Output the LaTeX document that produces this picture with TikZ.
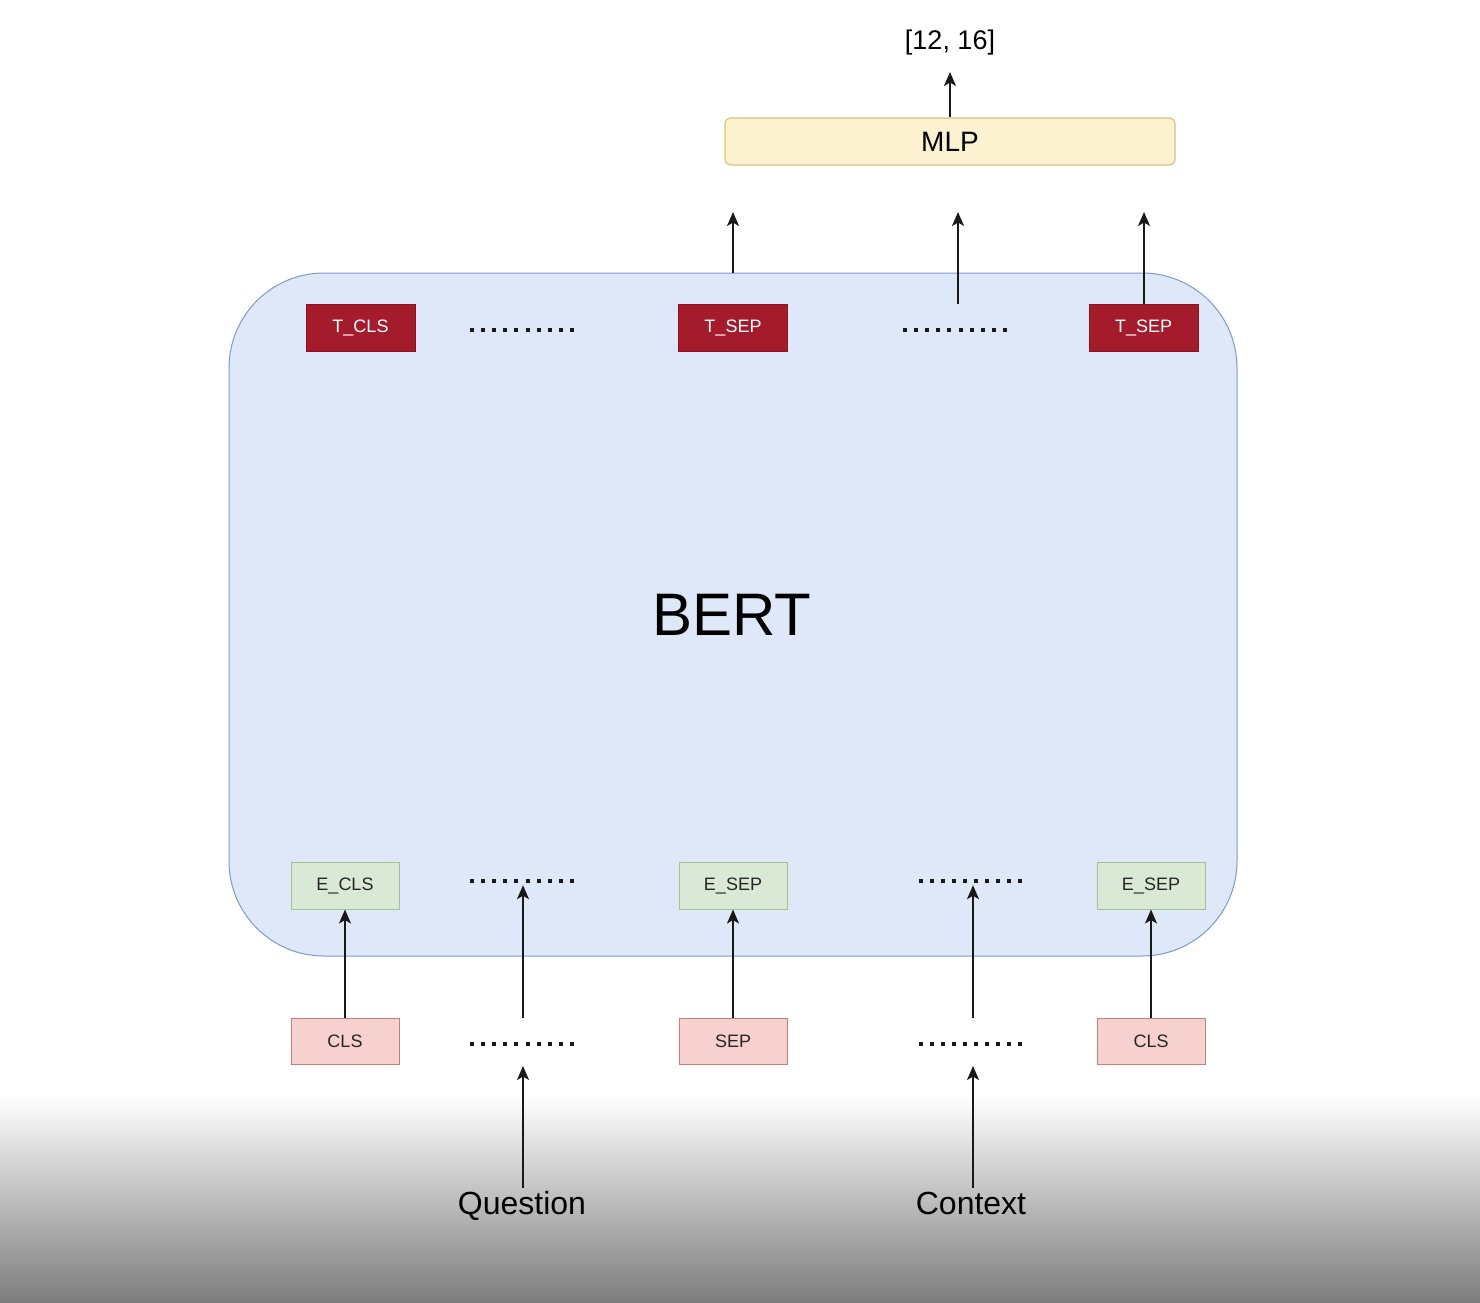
\documentclass[tikz,border=0pt]{standalone}
\usepackage{fontspec}
\setmainfont{Liberation Sans}
\usetikzlibrary{arrows.meta}
\definecolor{tred}{HTML}{A41C2C}
\definecolor{tredb}{HTML}{8E1222}
\definecolor{bertfill}{HTML}{DEE8F9}
\definecolor{bertline}{HTML}{7D9ACB}
\definecolor{efill}{HTML}{DAE9D5}
\definecolor{eline}{HTML}{9CC58A}
\definecolor{pfill}{HTML}{F7D1CF}
\definecolor{pline}{HTML}{C77E7B}
\definecolor{mfill}{HTML}{FCF2CF}
\definecolor{mline}{HTML}{D9C27E}
\definecolor{fadegray}{HTML}{7D7D7D}
\definecolor{fademid}{HTML}{E0E0E0}
\tikzset{
  lbl/.style={font=\fontsize{18}{20}\selectfont},
  tbox/.style={rectangle, fill=tred, draw=tredb, line width=0.8pt, text=white, minimum width=109pt, minimum height=47pt, inner sep=0pt, lbl},
  ebox/.style={rectangle, fill=efill, draw=eline, line width=1pt, text=black!85, minimum width=108pt, minimum height=47pt, inner sep=0pt, lbl},
  pbox/.style={rectangle, fill=pfill, draw=pline, line width=1pt, text=black!85, minimum width=108pt, minimum height=46pt, inner sep=0pt, lbl},
  dotrow/.style={rectangle, minimum width=106pt, minimum height=8pt, inner sep=0pt,
    path picture={\foreach \i in {0,...,9}
      \fill[black!90] ([xshift=\i*11.1pt+0.5pt,yshift=2pt]path picture bounding box.west) rectangle ++(4,4);}},
  arr/.style={line width=1.8pt, draw=black!90, -{Stealth[length=14pt,width=12pt,inset=3.5pt]}},
  inlabel/.style={font=\fontsize{32}{36}\selectfont, inner sep=2pt, anchor=base},
}
\begin{document}
\begin{tikzpicture}[x=1pt,y=-1pt]
\useasboundingbox (0,0) rectangle (1480,1302);
\fill[white] (0,0) rectangle (1480,1302);
\shade[top color=white, middle color=fademid, bottom color=fadegray] (0,1095) rectangle (1480,1302);

% BERT block
\node[rectangle, rounded corners=95pt, fill=bertfill, draw=bertline, line width=1pt,
  minimum width=1008pt, minimum height=683pt, inner sep=0pt] (bert) at (733,614.5) {};
\node[font=\fontsize{60}{70}\selectfont] (berttxt) at (732,615) {BERT};

% top row
\node[tbox] (tcls) at (360.5,327.5) {T\_CLS};
\node[dotrow] (td1) at (522.5,330) {};
\node[tbox] (tsep1) at (733,327.5) {T\_SEP};
\node[dotrow] (td2) at (955.5,330) {};
\node[tbox] (tsep2) at (1143.5,327.5) {T\_SEP};

% embeddings
\node[ebox] (ecls) at (345,885.5) {E\_CLS};
\node[dotrow] (ed1) at (522.5,881) {};
\node[ebox] (esep1) at (733,885.5) {E\_SEP};
\node[dotrow] (ed2) at (971,881) {};
\node[ebox] (esep2) at (1151,885.5) {E\_SEP};

% tokens
\node[pbox] (cls1) at (345,1041) {CLS};
\node[dotrow] (pd1) at (522.5,1044) {};
\node[pbox] (sep) at (733,1041) {SEP};
\node[dotrow] (pd2) at (971,1044) {};
\node[pbox] (cls2) at (1151,1041) {CLS};

% inputs
\node[inlabel] (question) at (522,1214) {Question};
\node[inlabel] (context) at (971,1214) {Context};

% MLP and output
\node[rectangle, rounded corners=6pt, fill=mfill, draw=mline, line width=1.2pt,
  minimum width=450pt, minimum height=47pt, inner sep=0pt, font=\fontsize{28}{32}\selectfont] (mlp) at (950,141.5) {MLP};
\node[font=\fontsize{27}{30}\selectfont, inner sep=0pt] (out) at (950,43) {[12, 16]};

% coordinates
\coordinate (a1s) at (733,273);
\coordinate (a1e) at (733,212);
\coordinate (a2s) at (958,304);
\coordinate (a2e) at (958,212);
\coordinate (a3e) at (1144,212);
\coordinate (q1s) at (523,1018);
\coordinate (c1s) at (973,1018);
\coordinate (q0e) at (523,1066);
\coordinate (c0e) at (973,1066);
\coordinate (q0s) at (523,1188);
\coordinate (c0s) at (973,1188);
\coordinate (oute) at (950,72);

% arrows
\draw[arr] (mlp.north) -- (oute);
\draw[arr] (a1s) -- (a1e);
\draw[arr] (a2s) -- (a2e);
\draw[arr] (tsep2.north -| a3e) -- (a3e);

\draw[arr] (cls1.north) -- (ecls.south);
\draw[arr] (q1s) -- (q1s |- ed1.south);
\draw[arr] (sep.north) -- (esep1.south);
\draw[arr] (c1s) -- (c1s |- ed2.south);
\draw[arr] (cls2.north) -- (esep2.south);

\draw[arr] (q0s) -- (q0e);
\draw[arr] (c0s) -- (c0e);
\end{tikzpicture}
\end{document}
